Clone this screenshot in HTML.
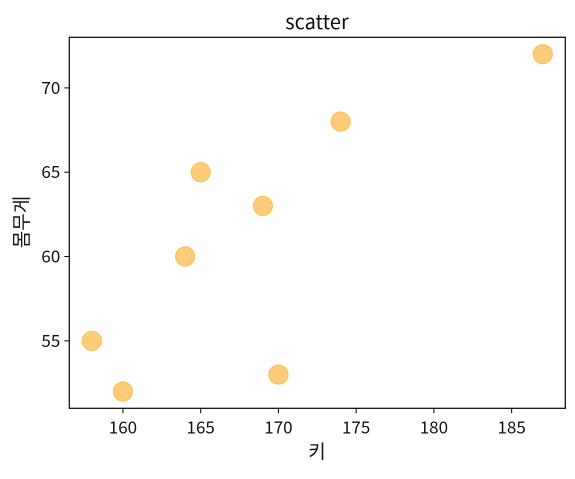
<!DOCTYPE html>
<html><head><meta charset="utf-8"><style>
body{margin:0;background:#fff}
svg text{font-family:"Noto Sans CJK KR","Liberation Sans",sans-serif;fill:#111}
</style></head><body>
<svg id="chart" width="575" height="474">
<text x="317" y="29" font-size="20" text-anchor="middle">scatter</text>
<g id="ticks"></g>
<g id="points"></g>
<rect x="69.3" y="37.3" width="496" height="371" fill="none" stroke="#000" stroke-width="1.2"/>
<text x="317" y="458" font-size="19" text-anchor="middle">키</text>
<text transform="translate(28,222) rotate(-90)" font-size="19" text-anchor="middle">몸무게</text>
</svg>
<script>
const heights=[158,160,164,165,169,170,174,187];
const weights=[55,52,60,65,63,53,68,72];
const xTicks=[160,165,170,175,180,185];
const yTicks=[55,60,65,70];
const L=69.3,R=565.3,T=37.3,B=408.3;
const xmin=156.55,xmax=188.45,ymin=51,ymax=73;
const sx=v=>L+(v-xmin)/(xmax-xmin)*(R-L);
const sy=v=>B-(v-ymin)/(ymax-ymin)*(B-T);
const NS='http://www.w3.org/2000/svg';
const tg=document.getElementById('ticks'),pg=document.getElementById('points');
xTicks.forEach(t=>{
 const l=document.createElementNS(NS,'line');
 
 
 l.setAttribute('x1',sx(t));l.setAttribute('x2',sx(t));l.setAttribute('y1',B);l.setAttribute('y2',B+5);l.setAttribute('stroke','#000');
 tg.appendChild(l);
 const tx=document.createElementNS(NS,'text');
 
 
 tx.setAttribute('x',sx(t));tx.setAttribute('y',B+25);tx.setAttribute('font-size','17');tx.setAttribute('text-anchor','middle');
 tx.textContent=t;tg.appendChild(tx);
});
yTicks.forEach(t=>{
 const l=document.createElementNS(NS,'line');
 
 
 l.setAttribute('x1',L-5);l.setAttribute('x2',L);l.setAttribute('y1',sy(t));l.setAttribute('y2',sy(t));l.setAttribute('stroke','#000');
 tg.appendChild(l);
 const tx=document.createElementNS(NS,'text');
 
 
 tx.setAttribute('x',L-9);tx.setAttribute('y',sy(t)+6);tx.setAttribute('font-size','17');tx.setAttribute('text-anchor','end');
 tx.textContent=t;tg.appendChild(tx);
});
heights.forEach((h,i)=>{
 const c=document.createElementNS(NS,'circle');
 
 
 c.setAttribute('cx',sx(h));c.setAttribute('cy',sy(weights[i]));c.setAttribute('r','9.5');
 c.setAttribute('fill','#ffcd7a');c.setAttribute('stroke','#fdc05a');c.setAttribute('stroke-width','1.2');
 pg.appendChild(c);
});
</script>
</body></html>
